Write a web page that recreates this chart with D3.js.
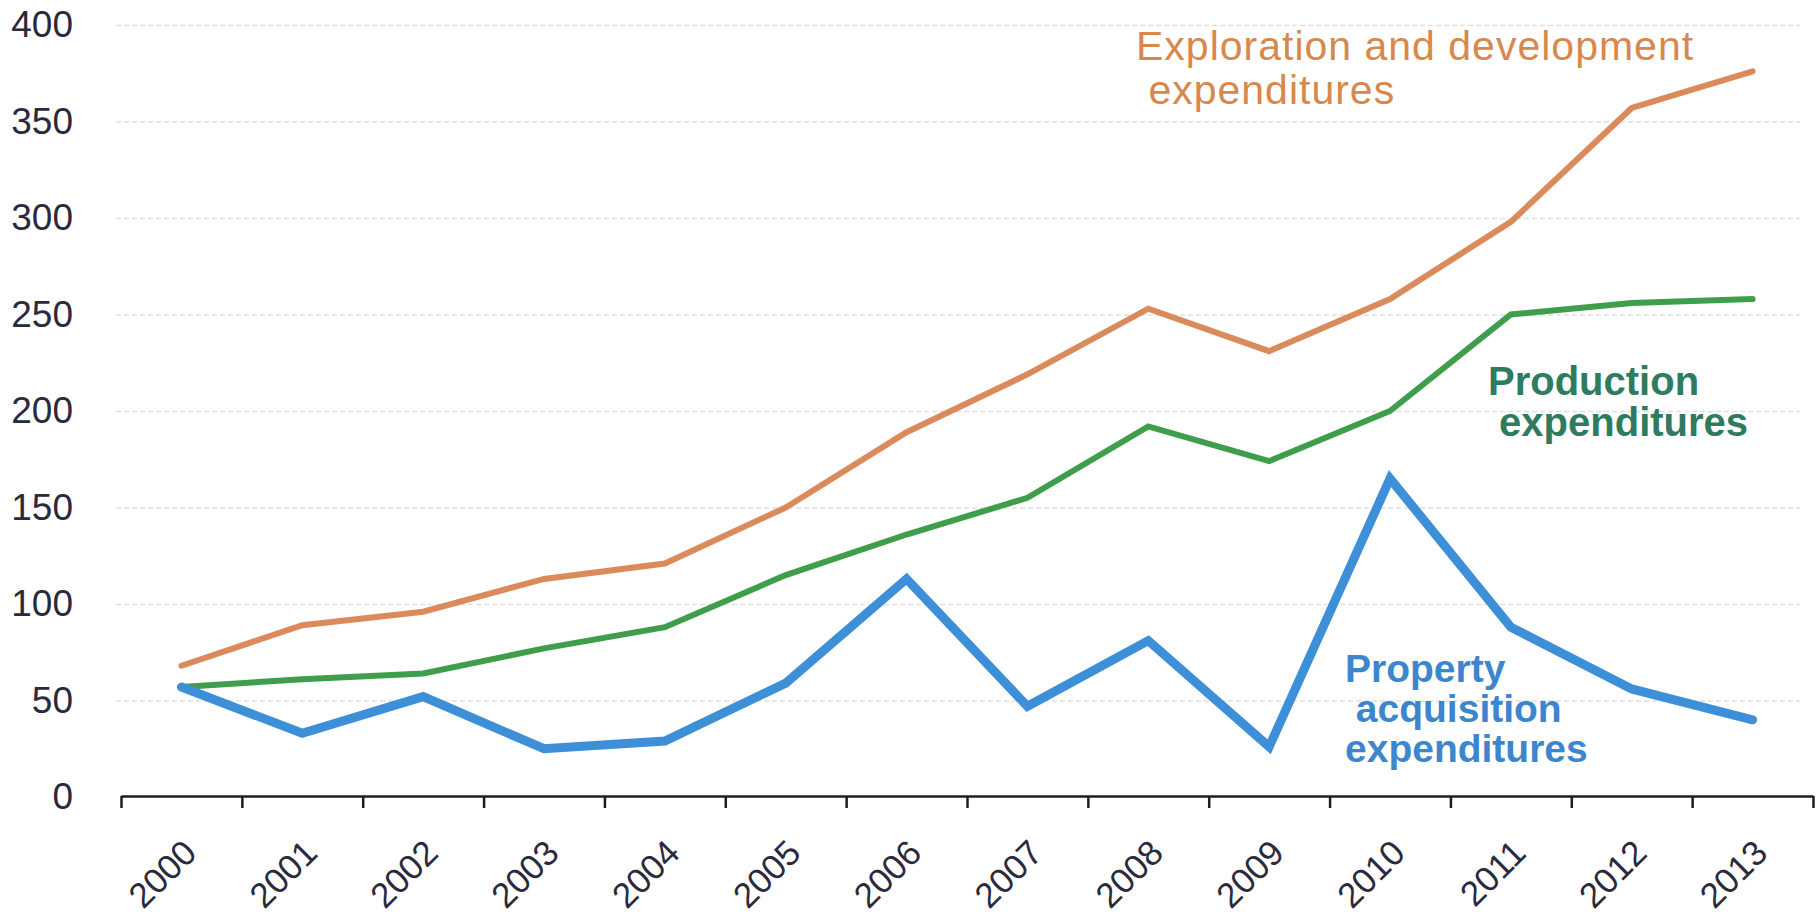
<!DOCTYPE html>
<html>
<head>
<meta charset="utf-8">
<script src="https://cdn.jsdelivr.net/npm/d3@7"></script>
<style>
  html, body { margin: 0; padding: 0; background: #ffffff; }
  svg { display: block; }
  text { font-family: "Liberation Sans", Arial, sans-serif; }
</style>
</head>
<body>
<svg id="chart" width="1819" height="916"></svg>
<script>
// ---- data ----
const years = ["2000","2001","2002","2003","2004","2005","2006","2007","2008","2009","2010","2011","2012","2013"];
const exploration = [68, 89, 96, 113, 121, 150, 189, 219, 253, 231, 258, 298, 357, 376];
const production  = [57, 61, 64, 77, 88, 115, 136, 155, 192, 174, 200, 250, 256, 258];
const property    = [57, 33, 52, 25, 29, 59, 113, 47, 81, 26, 165, 88, 56, 40];
const yTicks = [0, 50, 100, 150, 200, 250, 300, 350, 400];

const labelExploration = ["Exploration and development", " expenditures"];
const labelProduction  = ["Production", " expenditures"];
const labelProperty    = ["Property", " acquisition", "expenditures"];

// ---- layout ----
const svg = d3.select("#chart");
const x0 = 121, x1 = 1813, yBase = 797, yTop = 25;
const x = d3.scaleBand().domain(years).range([x0, x1]);
const xb = d3.scaleLinear().domain([0, years.length]).range([x0, x1]);
const y = d3.scaleLinear().domain([0, 400]).range([yBase, yTop]);

// gridlines
const grid = svg.append("g").attr("transform", "translate(116,0)")
  .call(d3.axisLeft(y).tickValues(yTicks.filter(v => v > 0)).tickSize(-(1800 - 116)).tickFormat(""));
grid.select(".domain").remove();
grid.selectAll("line").attr("stroke", "#e0e0e0").attr("stroke-width", 1.5).attr("stroke-dasharray", "5,3");

// y labels
const yAxis = svg.append("g").attr("transform", "translate(73,0)")
  .call(d3.axisLeft(y).tickValues(yTicks).tickSize(0).tickPadding(0));
yAxis.select(".domain").remove();
yAxis.selectAll("text")
  .attr("font-size", 37).attr("fill", "#2a2a3c")
  .attr("font-family", "'Liberation Sans', Arial, sans-serif");

// x axis line + boundary ticks
const xAxis = svg.append("g").attr("transform", `translate(0,${yBase - 1})`)
  .call(d3.axisBottom(xb).tickValues(d3.range(years.length + 1)).tickSize(12).tickSizeOuter(0).tickFormat(""));
xAxis.select(".domain").attr("stroke", "#1e1e1e").attr("stroke-width", 2.5);
xAxis.selectAll(".tick line").attr("stroke", "#1e1e1e").attr("stroke-width", 2.5);

// x labels
svg.append("g").selectAll("text").data(years).join("text")
  .attr("transform", d => `translate(${x(d) + x.bandwidth() / 2 + 17},${yBase + 58}) rotate(-45)`)
  .attr("text-anchor", "end")
  .attr("font-size", 35).attr("fill", "#2a2a3c")
  .text(d => d);

// lines
const line = d3.line().x((d, i) => x(years[i]) + x.bandwidth() / 2).y(d => y(d));
const series = [
  { vals: exploration, color: "#db8a5c", w: 6 },
  { vals: production, color: "#3f9e4b", w: 6 },
  { vals: property, color: "#3d8fd8", w: 9 }
];
svg.append("g").selectAll("path").data(series).join("path")
  .attr("d", s => line(s.vals))
  .attr("fill", "none")
  .attr("stroke", s => s.color)
  .attr("stroke-width", s => s.w)
  .attr("stroke-linejoin", "miter")
  .attr("stroke-linecap", "round");

// series labels
function addLabel(lines, xPos, yFirst, lh, color, size, weight, ls) {
  const t = svg.append("text").attr("fill", color).attr("font-size", size)
    .attr("font-weight", weight).attr("letter-spacing", ls || 0)
    .attr("xml:space", "preserve").style("white-space", "pre");
  lines.forEach((s, i) => {
    t.append("tspan").attr("x", xPos).attr("y", yFirst + i * lh).text(s);
  });
}
addLabel(labelExploration, 1136, 60, 44, "#d7884c", 41, "normal", 1);
addLabel(labelProduction, 1488, 395, 41, "#2f7b60", 40, "bold");
addLabel(labelProperty, 1345, 682, 40, "#3d86cc", 39, "bold");
</script>
</body>
</html>
